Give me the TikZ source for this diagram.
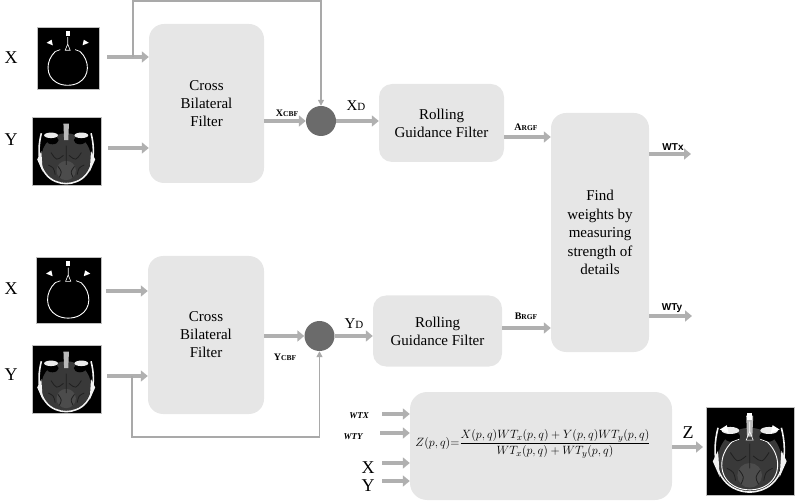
\documentclass[tikz,border=0pt]{standalone}
\usepackage{fontspec}
\setmainfont{Liberation Serif}
\newfontfamily\lsans{Liberation Sans}
\usetikzlibrary{arrows.meta}
\definecolor{boxgray}{HTML}{E6E6E6}
\definecolor{arrgray}{HTML}{B0B0B0}
\definecolor{circgray}{HTML}{6B6B6B}
\definecolor{linegray}{HTML}{A9A9A9}
\tikzset{
  procbox/.style={fill=boxgray, draw=none, rounded corners=15pt, align=center, inner sep=2pt,
    font=\fontsize{15}{18}\selectfont},
  sumcirc/.style={circle, fill=circgray, draw=none, minimum size=30pt, inner sep=0pt},
  imgbox/.style={fill=black, draw=gray!50, line width=0.6pt, inner sep=0pt},
  bigarrow/.style={draw=arrgray, line width=4.5pt, -{Triangle[length=7pt,width=11pt]}, shorten >=0pt},
  thinarrow/.style={draw=linegray, line width=1.4pt, -{Triangle[length=6pt,width=6pt]}},
  biglbl/.style={inner sep=0pt, font=\fontsize{18}{18}\selectfont},
  sublbl/.style={inner sep=0pt},
  ctimg/.pic={
    \draw[white, line width=0.9pt] (30,40) .. controls (14,55) and (14,80) .. (32,90)
      .. controls (42,96) and (58,96) .. (68,90) .. controls (86,80) and (86,55) .. (70,40);
    \draw[white, line width=0.7pt] (30,40) -- (38,37);
    \draw[white, line width=0.7pt] (70,40) -- (62,37);
    \fill[white] (16,26) -- (24,21) -- (26,30) -- cycle;
    \fill[white] (84,26) -- (76,21) -- (74,30) -- cycle;
    \fill[white] (47,7) rectangle (53,15);
    \draw[white, line width=0.6pt] (50,17) -- (50,28) (46,38) -- (50,28) -- (54,38) -- cycle;
  },
  mrimg/.pic={
    \fill[gray!45!black] (50,60) ellipse [x radius=36, y radius=36];
    \fill[gray!60!black] (50,78) ellipse [x radius=14, y radius=14];
    \draw[gray!25!black, line width=0.8pt] (28,52) .. controls (36,64) .. (46,56)
      (72,52) .. controls (64,64) .. (54,56) (38,72) .. controls (44,80) .. (40,88)
      (62,72) .. controls (56,80) .. (60,88) (50,42) -- (50,70)
      (24,70) .. controls (32,74) .. (34,84) (76,70) .. controls (68,74) .. (66,84);
    \fill[gray!55] (46,10) -- (54,10) -- (53,34) -- (47,34) -- cycle;
    \fill[black] (30,34) ellipse [x radius=9, y radius=6];
    \fill[black] (70,34) ellipse [x radius=9, y radius=6];
    \fill[white!85!gray] (28,27) ellipse [x radius=10, y radius=4];
    \fill[white!85!gray] (72,27) ellipse [x radius=10, y radius=4];
    \draw[white!90!gray, line width=1.6pt] (14,24) .. controls (6,55) and (12,85) .. (35,94)
      .. controls (45,98) and (55,98) .. (65,94) .. controls (88,85) and (94,55) .. (86,24);
    \fill[white!90!gray] (8,62) -- (14,50) -- (16,80) -- cycle;
    \fill[white!90!gray] (92,62) -- (86,50) -- (84,80) -- cycle;
  },
}
\begin{document}
\begin{tikzpicture}[x=1pt, y=-1pt]
\useasboundingbox (0,0) rectangle (800,502);
% ---------- images ----------
\node[imgbox, minimum width=62pt, minimum height=62pt] (imX1) at (68,58) {};
\pic[scale=0.62] at (imX1.north west) {ctimg};
\node[imgbox, minimum width=69pt, minimum height=68pt] (imY1) at (66.5,151) {};
\pic[scale=0.69] at (imY1.north west) {mrimg};
\node[imgbox, minimum width=65pt, minimum height=66pt] (imX2) at (68.5,290) {};
\pic[scale=0.65] at (imX2.north west) {ctimg};
\node[imgbox, minimum width=69pt, minimum height=68pt] (imY2) at (66.5,379) {};
\pic[scale=0.69] at (imY2.north west) {mrimg};
\node[imgbox, minimum width=88pt, minimum height=88pt] (imZ) at (750,451) {};
\pic[scale=0.88] at (imZ.north west) {mrimg};
\pic[scale=0.88] at (imZ.north west) {ctimg};
% ---------- input labels ----------
\node[biglbl] (lX1) at (11,58) {X};
\node[biglbl] (lY1) at (11,140) {Y};
\node[biglbl] (lX2) at (11,289) {X};
\node[biglbl] (lY2) at (11,375) {Y};
% ---------- boxes ----------
\node[procbox, minimum width=115pt, minimum height=159pt] (cbf1) at (206.5,103.5) {Cross\\Bilateral\\Filter};
\node[procbox, minimum width=116pt, minimum height=158pt] (cbf2) at (206,335) {Cross\\Bilateral\\Filter};
\node[procbox, rounded corners=13pt, minimum width=125pt, minimum height=78pt] (rgf1) at (441.5,123) {Rolling\\Guidance Filter};
\node[procbox, rounded corners=13pt, minimum width=129pt, minimum height=71pt] (rgf2) at (437.5,331) {Rolling\\Guidance Filter};
\node[procbox, minimum width=98pt, minimum height=239pt, font=\fontsize{15}{18.5}\selectfont] (find) at (600,232.5) {Find\\weights by\\measuring\\strength of\\details};
\node[procbox, rounded corners=17pt, minimum width=262pt, minimum height=108pt] (fuse) at (541,446) {};
\node[inner sep=0pt, font=\fontsize{12.6}{12.6}\selectfont] (formula) at (533,444)
  {$Z(p,q){=}\displaystyle\frac{X(p,q)WT_x(p,q)+Y(p,q)WT_y(p,q)}{WT_x(p,q)+WT_y(p,q)}$};
% ---------- circles ----------
\node[sumcirc] (c1) at (321,121) {};
\node[sumcirc] (c2) at (319.5,336) {};
% ---------- coordinates ----------
\coordinate (sX1) at (107,57);
\coordinate (sY1) at (108,148);
\coordinate (sX2) at (106,291);
\coordinate (sY2) at (107,376);
\coordinate (fbX) at (133,57);
\coordinate (fbY) at (132,376);
\coordinate (eWTx) at (691,154);
\coordinate (eWTy) at (692,316);
\coordinate (sWTX) at (382,414);
\coordinate (sWTY) at (380,433);
\coordinate (sX3) at (382,463);
\coordinate (sY3) at (382,481);
\coordinate (eZ) at (703,447);
\coordinate (eA) at (504,137);
\coordinate (eB) at (502,328);
% ---------- thick arrows ----------
\draw[bigarrow] (sX1) -- (cbf1.west |- sX1);
\draw[bigarrow] (sY1) -- (cbf1.west |- sY1);
\draw[bigarrow] (sX2) -- (cbf2.west |- sX2);
\draw[bigarrow] (sY2) -- (cbf2.west |- sY2);
\draw[bigarrow] (cbf1.east |- c1) -- (c1.west);
\draw[bigarrow] (c1.east) -- (rgf1.west |- c1.east);
\draw[bigarrow] (cbf2.east |- c2) -- (c2.west);
\draw[bigarrow] (c2.east) -- (rgf2.west |- c2.east);
\draw[bigarrow] (rgf1.east |- eA) -- (find.west |- eA);
\draw[bigarrow] (rgf2.east |- eB) -- (find.west |- eB);
\draw[bigarrow] (find.east |- eWTx) -- (eWTx);
\draw[bigarrow] (find.east |- eWTy) -- (eWTy);
\draw[bigarrow] (sWTX) -- (fuse.west |- sWTX);
\draw[bigarrow] (sWTY) -- (fuse.west |- sWTY);
\draw[bigarrow] (sX3) -- (fuse.west |- sX3);
\draw[bigarrow] (sY3) -- (fuse.west |- sY3);
\draw[bigarrow] (fuse.east |- eZ) -- (eZ);
% ---------- feedback lines ----------
\draw[thinarrow] (fbX) -- ++(0,-56) -| (c1.north);
\draw[thinarrow] (fbY) -- ++(0,61) -| (c2.south);
% ---------- connector labels ----------
\node[sublbl] (lXcbf) at (287,113) {\fontsize{10}{10}\selectfont\bfseries X\fontsize{7.5}{7.5}\selectfont CBF};
\node[sublbl] (lYcbf) at (285,357) {\fontsize{10}{10}\selectfont\bfseries Y\fontsize{7.5}{7.5}\selectfont CBF};
\node[sublbl] (lXd) at (356,106) {\fontsize{15}{15}\selectfont X\fontsize{11}{11}\selectfont D};
\node[sublbl] (lYd) at (354,324) {\fontsize{15}{15}\selectfont Y\fontsize{11}{11}\selectfont D};
\node[sublbl] (lA) at (526,127) {\fontsize{10}{10}\selectfont\bfseries A\fontsize{7.5}{7.5}\selectfont RGF};
\node[sublbl] (lB) at (526,316) {\fontsize{10}{10}\selectfont\bfseries B\fontsize{7.5}{7.5}\selectfont RGF};
\node[sublbl] (lWTx) at (673,147) {\lsans\fontsize{10}{10}\selectfont\bfseries WTx};
\node[sublbl] (lWTy) at (672,308) {\lsans\fontsize{10}{10}\selectfont\bfseries WTy};
\node[sublbl] (lWTX) at (359,416) {\fontsize{9}{9}\selectfont\bfseries\itshape WTX};
\node[sublbl] (lWTY) at (353,437) {\fontsize{9}{9}\selectfont\bfseries\itshape WTY};
\node[biglbl] (lX3) at (368,468) {X};
\node[biglbl] (lY3) at (368,486) {Y};
\node[biglbl] (lZ) at (688,433) {Z};
\end{tikzpicture}
\end{document}
